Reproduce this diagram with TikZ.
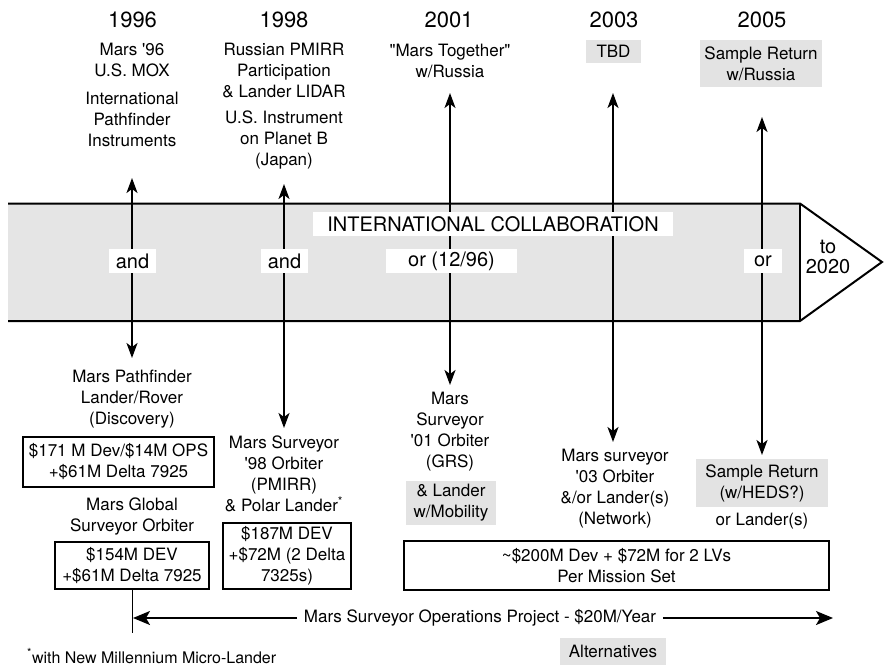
\documentclass[tikz,border=0pt]{standalone}
\usepackage{fontspec}
\setmainfont{TeX Gyre Heros}
\usepackage{tikz}
\usetikzlibrary{arrows.meta,      % pointes de fleches
           positioning}
\definecolor{bandgr}{RGB}{229,229,229}
\definecolor{taggr}{RGB}{227,227,227}
\newcommand{\txtsz}{\fontsize{17}{21}\selectfont}
\newcommand{\yrsz}{\fontsize{22}{26}\selectfont}
\newcommand{\bandsz}{\fontsize{20}{20}\selectfont}

\begin{document}
\begin{tikzpicture}[x=1pt,y=-1pt,
  txt/.style={align=center,font=\txtsz,inner sep=0pt},
  yr/.style={font=\yrsz,inner sep=0pt},
  cost/.style={draw,line width=1.1pt,align=center,font=\txtsz,inner sep=0pt},
  tag/.style={fill=taggr,align=center,font=\txtsz,inner sep=0pt},
  bandlbl/.style={fill=white,font=\bandsz,inner sep=0pt,minimum height=24pt},
  link/.style={line width=1.8pt,{Stealth[length=15pt,width=11pt,inset=4pt]}-{Stealth[length=15pt,width=11pt,inset=4pt]}},
  opsarrow/.style={line width=1.6pt,-{Stealth[length=17pt,width=14pt,inset=4pt]}}]
\useasboundingbox (0,0) rectangle (884,665);
% la bande
\fill[bandgr](8,203.5)rectangle(800,321);
\draw[line width=2pt](8,203.5)--(800,203.5)--(882,262)--(800,321)--(8,321);
\draw[line width=2pt](800,203.5)--(800,321);
% les annees
\node[yr] (y96) at (132.5,19.5) {1996};
\node[yr] (y98) at (284,19.5) {1998};
\node[yr] (y01) at (449,19.5) {2001};
\node[yr] (y03) at (614,19.5) {2003};
\node[yr] (y05) at (762,19.5) {2005};
% en haut
\node[txt] (t96a) at (132,59.5) {Mars \textquotesingle96\\U.S. MOX};
\node[txt] (t96b) at (132,119) {International\\Pathfinder\\Instruments};
\node[txt] (t98a) at (284,70) {Russian PMIRR\\Participation\\\& Lander LIDAR};
\node[txt] (t98b) at (284,140) {U.S. Instrument\\on Planet B\\(Japan)};
\node[txt] (t01) at (450,60.5) {\textquotedbl Mars Together\textquotedbl\\w/Russia};
\node[tag,minimum width=55pt,minimum height=23pt] (t03) at (613.5,51.5) {TBD};
\node[tag,minimum width=122pt,minimum height=47pt] (t05) at (761,63.5) {Sample Return\\w/Russia};
% les fleches
\foreach \nm/\x/\ya/\yb in {96/132/178/358,98/284/184/428,01/450/93/385,03/613/93/442,05/762/117/455}{
  \coordinate (top\nm) at (\x,\ya);
  \coordinate (bot\nm) at (\x,\yb);
  \draw[link](top\nm)--(bot\nm);
}
% sur la bande
\node[bandlbl,minimum width=360pt] (collab) at (493,224) {INTERNATIONAL COLLABORATION};
\node[bandlbl,minimum width=47pt] (and96) at (132.5,261) {and};
\node[bandlbl,minimum width=47pt] (and98) at (284.5,261) {and};
\node[bandlbl,minimum width=131pt] (or01) at (451.5,261) {or (12/96)};
\node[bandlbl,minimum width=38pt] (or05) at (763,261) {or};
\node[align=center,font=\bandsz,inner sep=0pt] (to2020) at (828,257) {to\\2020};
% en bas
\node[txt] (b96a) at (132,399) {Mars Pathfinder\\Lander/Rover\\(Discovery)};
\node[cost,minimum width=191pt,minimum height=50pt] (c96a) at (118.5,462) {\$171 M Dev/\$14M OPS\\+\$61M Delta 7925};
\node[txt] (b96b) at (132,516.5) {Mars Global\\Surveyor Orbiter};
\node[cost,minimum width=154pt,minimum height=47pt] (c96b) at (132,565.5) {\$154M DEV\\+\$61M Delta 7925};
\node[txt] (b98) at (284,474) {Mars Surveyor\\\textquotesingle98 Orbiter\\(PMIRR)\\\& Polar Lander\textsuperscript{*}};
\node[cost,minimum width=128pt,minimum height=66pt] (c98) at (287,556) {\$187M DEV\\+\$72M (2 Delta\\7325s)};
\node[txt] (b01) at (450,431.5) {Mars\\Surveyor\\\textquotesingle01 Orbiter\\(GRS)};
\node[tag,minimum width=90pt,minimum height=44pt] (b01t) at (451,503) {\& Lander\\w/Mobility};
\node[txt] (b03) at (615,489) {Mars surveyor\\\textquotesingle03 Orbiter\\\&/or Lander(s)\\(Network)};
\node[tag,minimum width=132pt,minimum height=48pt] (b05) at (762,483) {Sample Return\\(w/HEDS?)};
\node[txt] (b05or) at (762,521) {or Lander(s)};
\node[cost,minimum width=425pt,minimum height=49pt] (cset) at (616.5,565.5) {\textasciitilde\$200M Dev + \$72M for 2 LVs\\Per Mission Set};
% operations
\node[txt,inner xsep=6.5pt] (ops) at (480,618) {Mars Surveyor Operations Project - \$20M/Year};
\coordinate (opsL) at (133,618);
\coordinate (opsR) at (833,618);
\coordinate (opsend) at (132,633);
\draw[line width=0.9pt](c96b.south)--(opsend);
\draw[opsarrow](ops.west)--(opsL);
\draw[opsarrow](ops.east)--(opsR);
\node[tag,minimum width=106pt,minimum height=27pt] (alt) at (613,651.5) {Alternatives};
\node[anchor=west,font=\fontsize{16}{19}\selectfont,inner sep=0pt] (note) at (27,656) {\textsuperscript{*}with New Millennium Micro-Lander};
\end{tikzpicture}
\end{document}
